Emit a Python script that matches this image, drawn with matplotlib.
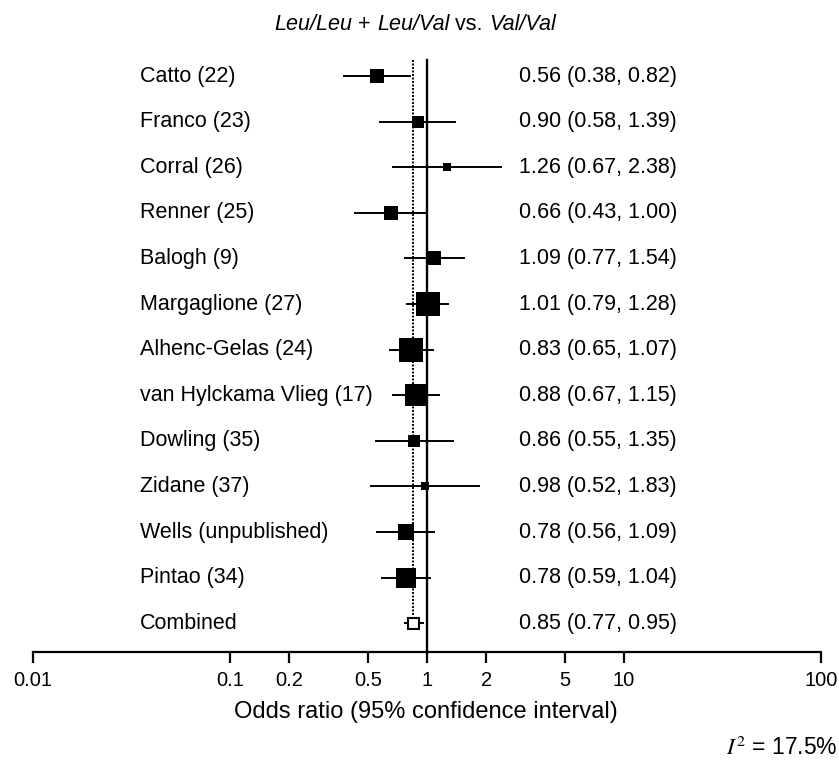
import matplotlib
matplotlib.use('Agg')
import matplotlib.pyplot as plt
from matplotlib.offsetbox import TextArea, HPacker, AnchoredOffsetbox
import numpy as np

plt.rcParams['font.family'] = ['Liberation Sans', 'DejaVu Sans']

# Исследования (сверху вниз) и их отношения шансов с 95% ДИ
studies = ['Catto (22)', 'Franco (23)', 'Corral (26)', 'Renner (25)', 'Balogh (9)',
           'Margaglione (27)', 'Alhenc-Gelas (24)', 'van Hylckama Vlieg (17)',
           'Dowling (35)', 'Zidane (37)', 'Wells (unpublished)', 'Pintao (34)']
odds = [0.56, 0.90, 1.26, 0.66, 1.09, 1.01, 0.83, 0.88, 0.86, 0.98, 0.78, 0.78]
ci_low = [0.38, 0.58, 0.67, 0.43, 0.77, 0.79, 0.65, 0.67, 0.55, 0.52, 0.56, 0.59]
ci_high = [0.82, 1.39, 2.38, 1.00, 1.54, 1.28, 1.07, 1.15, 1.35, 1.83, 1.09, 1.04]
weights = [6.3, 4.6, 2.1, 5.4, 6.3, 18.5, 18.5, 14.1, 3.9, 1.6, 7.2, 11.6]  # вес, %

combined_label = 'Combined'
combined_or, combined_lo, combined_hi = 0.85, 0.77, 0.95
i_squared = 17.5

ticks = [0.01, 0.1, 0.2, 0.5, 1, 2, 5, 10, 100]
tick_labels = ['0.01', '0.1', '0.2', '0.5', '1', '2', '5', '10', '100']

W, H = 839, 760
fig = plt.figure(figsize=(W / 100, H / 100), dpi=100)
ax = fig.add_axes([33 / W, 1 - 652 / H, 788 / W, 612 / H])

n = len(studies)
rows = np.arange(n + 1)
ax.set_xscale('log')
ax.set_xlim(0.01, 100)
ax.set_ylim(12.63, -0.79)

FS = 15.5
px2pt = 72 / 100
# сторона квадрата ~ sqrt(веса)
sides = [5.6 * np.sqrt(w) * px2pt for w in weights]
trans = ax.get_yaxis_transform()
x_lab = (140 - 33) / 788
x_or = (519 - 33) / 788

# линии: 1 (сплошная) и суммарная оценка (пунктир)
ax.plot([1, 1], [-0.35, 12.63], color='black', lw=1.7, clip_on=False, zorder=2)
ax.plot([combined_or, combined_or], [-0.35, n - 0.15], color='black', lw=1.4,
        ls=(0, (1, 0.8)), zorder=1)

for i in range(n):
    ax.plot([ci_low[i], ci_high[i]], [rows[i], rows[i]], color='black', lw=1.4, zorder=3)
    ax.plot(odds[i], rows[i], marker='s', ms=sides[i], color='black', mew=0, zorder=4)
    ax.text(x_lab, rows[i], studies[i], transform=trans, ha='left', va='center', fontsize=FS)
    ax.text(x_or, rows[i], f'{odds[i]:.2f} ({ci_low[i]:.2f}, {ci_high[i]:.2f})',
            transform=trans, ha='left', va='center', fontsize=FS)

# суммарная оценка
ax.plot([combined_lo, combined_hi], [n, n], color='black', lw=1.4, zorder=3)
ax.plot(combined_or, n, marker='s', ms=11 * px2pt, mfc='white', mec='black',
        mew=1.5, zorder=4)
ax.text(x_lab, n, combined_label, transform=trans, ha='left', va='center', fontsize=FS)
ax.text(x_or, n, f'{combined_or:.2f} ({combined_lo:.2f}, {combined_hi:.2f})',
        transform=trans, ha='left', va='center', fontsize=FS)

for s in ['top', 'right', 'left']:
    ax.spines[s].set_visible(False)
ax.spines['bottom'].set_linewidth(1.6)
ax.set_yticks([])
ax.set_xticks(ticks)
ax.set_xticklabels(tick_labels)
ax.minorticks_off()
ax.tick_params(axis='x', direction='out', length=8, width=1.6, pad=6, labelsize=14.5)

# заголовок из кусков: курсив / прямой
parts = [('Leu/Leu', 'italic'), (' + ', 'normal'), ('Leu/Val', 'italic'),
         (' vs. ', 'normal'), ('Val/Val', 'italic')]
boxes = [TextArea(t, textprops=dict(fontsize=FS, fontstyle=st)) for t, st in parts]
title = HPacker(children=boxes, align='baseline', pad=0, sep=0)
anch = AnchoredOffsetbox(loc='center', child=title, frameon=False, pad=0, borderpad=0,
                         bbox_to_anchor=(415 / W, 1 - 25 / H),
                         bbox_transform=fig.transFigure)
fig.add_artist(anch)

fig.text(426 / W, 1 - 712 / H, 'Odds ratio (95% confidence interval)',
         ha='center', va='center', fontsize=17)
fig.text(837 / W, 1 - 748 / H, rf'$I^{{2}}$ = {i_squared}%', ha='right', va='center',
         fontsize=16.5, math_fontfamily='stix')

fig.savefig('out.png', dpi=100)
